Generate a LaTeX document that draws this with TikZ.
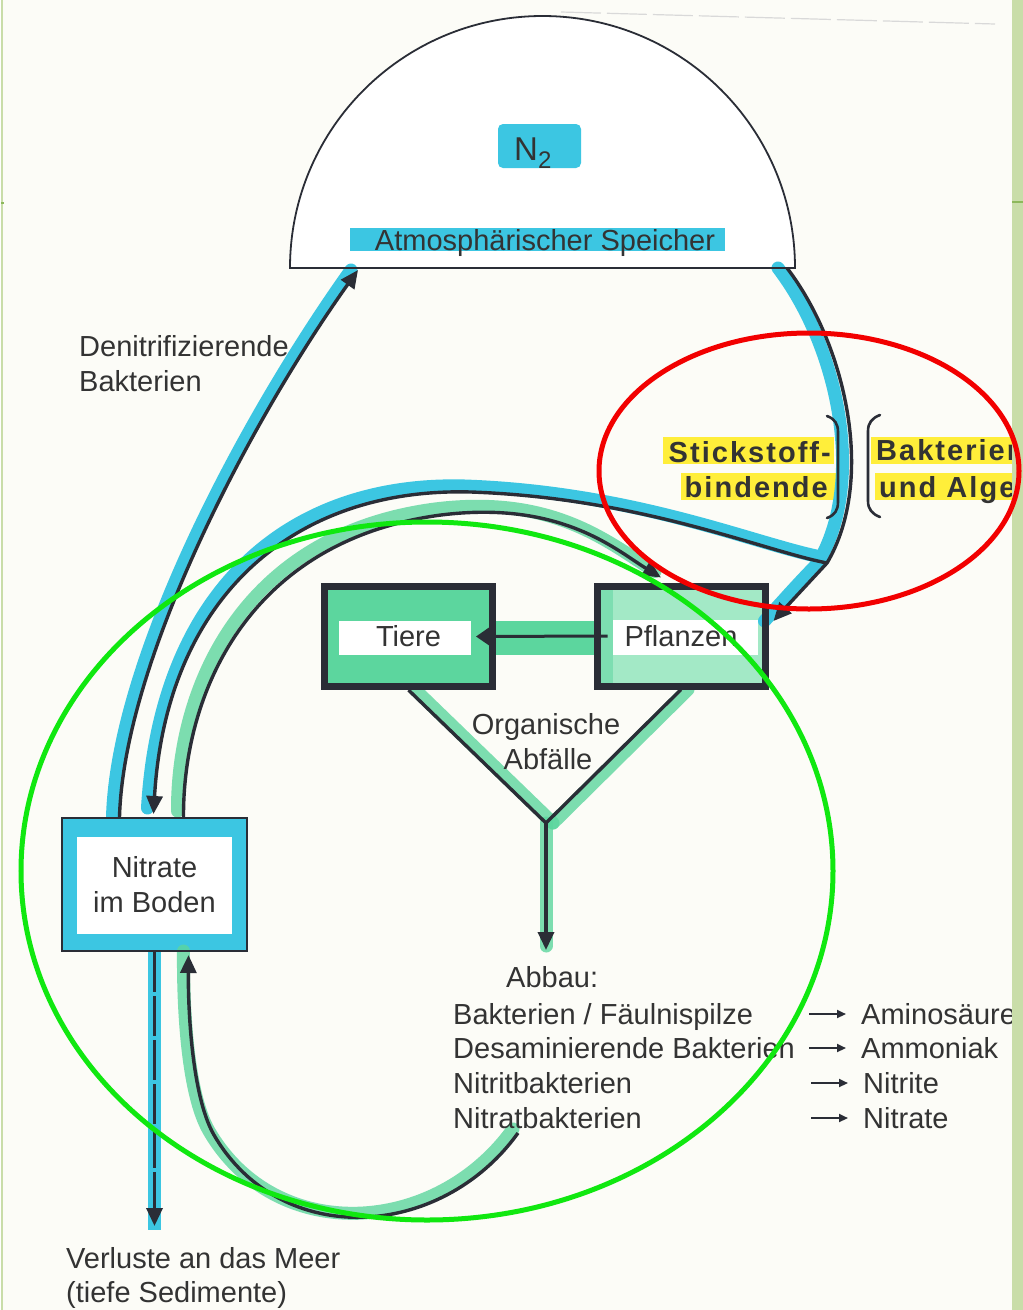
\documentclass[tikz,border=0pt]{standalone}
\usepackage{fontspec}
\setmainfont{Liberation Sans}
\newfontfamily\markfont[LetterSpace=7]{Liberation Sans}
\usetikzlibrary{arrows.meta,calc}

\definecolor{paper}{HTML}{FCFCF7}
\definecolor{ink}{HTML}{2A2D36}
\definecolor{txt}{HTML}{333333}
\definecolor{cyanhl}{HTML}{3CC6E2}
\definecolor{minthl}{HTML}{5CD69E}
\definecolor{mintpale}{HTML}{A3E9C6}
\definecolor{yellowhl}{HTML}{FFEE3A}
\definecolor{frame}{HTML}{C9DDA9}
\definecolor{frameline}{HTML}{8DB85B}
\definecolor{ringred}{HTML}{F20000}
\definecolor{ringgreen}{HTML}{10E810}

\pgfdeclarelayer{base}
\pgfdeclarelayer{marker}
\pgfdeclarelayer{ring}
\pgfsetlayers{base,marker,main,ring}

\newcommand\lblfont{\fontsize{29}{35}\selectfont}

\begin{document}
\begin{tikzpicture}[x=1pt,y=-1pt,
  lbl/.style={font=\lblfont, text=txt, inner sep=0pt},
  boldlbl/.style={font=\markfont\bfseries\lblfont, text=txt, inner sep=0pt},
  ink/.style={draw=ink, line width=3.4pt},
  tipped/.style={-{Triangle[length=18pt,width=16pt]}},
  cyanband/.style={draw=cyanhl, line width=13pt, line cap=round},
  mintband/.style={draw=minthl, line width=13pt, line cap=round, opacity=.8},
  organ/.style={draw=ink, line width=7pt, minimum width=168pt, minimum height=100pt,
                inner sep=0pt, font=\lblfont, text=txt},
  bracket/.style={draw=ink, line width=2.6pt, line cap=round},
]

% paper, frame strip and the white dome interior
\begin{pgfonlayer}{base}
  \fill[paper] (0,0) rectangle (1022,1310);
  \fill[white] (289,268) arc[start angle=180, end angle=360, x radius=252.5, y radius=252] -- cycle;
  \fill[frame] (0,0) rectangle (2.5,1310);
  \draw[frameline, line width=2pt] (0,203) -- (3,203);
  \draw[black!15, line width=1.2pt, dash pattern=on 40pt off 6pt] (560,12) -- (994,24);
\end{pgfonlayer}
\useasboundingbox (0,0) rectangle (1022,1310);

% ---------- atmosphere ----------
\draw[ink, line width=1.8pt] (289,268) arc[start angle=180, end angle=360, x radius=252.5, y radius=252] -- cycle;
\coordinate (atmL) at (357,270);
\coordinate (atmR) at (786,268);
\begin{pgfonlayer}{marker}
  \fill[cyanhl, rounded corners=5pt] (497,124) rectangle (580,168);
  \fill[cyanhl] (349,228) rectangle (724,251);
\end{pgfonlayer}
\node[lbl, anchor=base west, font=\fontsize{33}{33}\selectfont] (n2) at (513,160)
  {N\raisebox{-8pt}{\fontsize{24}{24}\selectfont 2}};
\node[lbl, anchor=base] (atmtext) at (544,250) {Atmosphärischer Speicher};

% ---------- boxes ----------
\node[draw=ink, line width=2pt, minimum width=185pt, minimum height=133pt, inner sep=0pt,
      align=center, font=\lblfont, text=txt] (boden) at (153.5,884.5) {Nitrate\\im Boden};
\node[organ] (tiere) at (407.5,636.5) {Tiere};
\node[organ] (pfl) at (680,636) {Pflanzen};

\begin{pgfonlayer}{marker}
  \fill[cyanhl] (61,818) rectangle (246,951);
  \fill[white] (76,837) rectangle (231,934);
  \fill[minthl] (323,586) rectangle (492,687);
  \fill[white] (338,621) rectangle (470,655);
  \fill[mintpale] (595,586) rectangle (765,685);
  \fill[minthl!80] (595,586) rectangle (612,685);
  \fill[white] (612,620) rectangle (757,655);
  \fill[minthl] (491,621) rectangle (596,655);
\end{pgfonlayer}

% ---------- labels ----------
\node[lbl, anchor=base west] (dn1) at (78,356) {Denitrifizierende};
\node[lbl, anchor=base west] (dn2) at (78,391) {Bakterien};
\node[lbl, anchor=base] (org1) at (545,734) {Organische};
\node[lbl, anchor=base] (org2) at (547,769) {Abfälle};
\node[lbl, anchor=base west] (abbau) at (505,987) {Abbau:};
\node[lbl, anchor=base west] (l1) at (452,1024) {Bakterien / Fäulnispilze};
\node[lbl, anchor=base west] (l2) at (452,1058) {Desaminierende Bakterien};
\node[lbl, anchor=base west] (l3) at (452,1093) {Nitritbakterien};
\node[lbl, anchor=base west] (l4) at (452,1128) {Nitratbakterien};
\node[lbl, anchor=base west] (r1) at (860,1024) {Aminosäuren};
\node[lbl, anchor=base west] (r2) at (860,1058) {Ammoniak};
\node[lbl, anchor=base west] (r3) at (862,1093) {Nitrite};
\node[lbl, anchor=base west] (r4) at (862,1128) {Nitrate};
\node[lbl, anchor=base west] (verl1) at (65,1268) {Verluste an das Meer};
\node[lbl, anchor=base west] (verl2) at (65,1302) {(tiefe Sedimente)};

\foreach \r in {r1,r2,r3,r4}
  \draw[draw=ink, line width=2pt, -{Triangle[length=9pt,width=8pt]}]
    ($(\r.base west)+(-52,-10)$) -- ($(\r.base west)+(-15,-10)$);

% nitrogen fixers
\begin{pgfonlayer}{marker}
  \fill[yellowhl] (662,437) rectangle (833,464);
  \fill[yellowhl] (680,473) rectangle (842,500);
  \fill[yellowhl] (870,437) rectangle (1012,464);
  \fill[yellowhl] (874,473) rectangle (1012,500);
\end{pgfonlayer}
\node[boldlbl, anchor=base east] (sf1) at (830,462) {Stickstoff-};
\node[boldlbl, anchor=base east] (sf2) at (827,497) {bindende};
\node[boldlbl, anchor=base west] (ba1) at (875,460) {Bakterien};
\node[boldlbl, anchor=base west] (ba2) at (878,497) {und Algen};
\draw[bracket] (826,416) .. controls (834,419) and (837,424) .. (837,432)
  -- (837,502) .. controls (837,510) and (834,515) .. (826,518);
\draw[bracket] (879,415) .. controls (871,418) and (867,423) .. (867,431)
  -- (867,501) .. controls (867,509) and (871,514) .. (879,517);

% ---------- connector end points ----------
\coordinate (bodenT1) at ($(boden.north)+(-35,0)$);
\coordinate (bodenT2) at ($(boden.north)+(-1,-3)$);
\coordinate (bodenT3) at ($(boden.north)+(29,0)$);
\coordinate (bodenB1) at ($(boden.south)+(0,0)$);
\coordinate (bodenB2) at ($(boden.south)+(34,3)$);
\coordinate (pflN) at ($(pfl.north)+(-20,-5)$);
\coordinate (pflE) at ($(pfl.east)+(5,-15)$);
\coordinate (fork) at (826,563);
\coordinate (ymerge) at (545,823);
\coordinate (abbauIn) at (545,950);
\coordinate (nitS) at (517,1133);
\coordinate (sink) at (153.5,1226);

\def\denitpath{(bodenT1) .. controls (123,660) and (250,420) .. (atmL)}
\def\fixpath{(atmR) .. controls (845,345) and (875,480) .. (fork) .. controls (805,585) .. (pflE)}
\def\fixsoilpath{(fork) .. controls (760,550) and (640,498) .. (470,492) .. controls (290,487) and (165,600) .. (bodenT2)}
\def\uptakepath{(bodenT3) .. controls (182,690) and (250,540) .. (440,515) .. controls (560,500) and (615,550) .. (pflN)}
\def\nitrifpath{(nitS) .. controls (440,1240) and (280,1250) .. (213,1135) .. controls (191,1097) and (187,1010) .. (bodenB2)}

% ---------- highlighter bands ----------
\begin{pgfonlayer}{marker}
  \draw[cyanband, transform canvas={xshift=-7pt}] \denitpath;
  \draw[cyanband, transform canvas={xshift=-9pt}] \fixpath;
  \draw[cyanband, transform canvas={xshift=-6pt, yshift=6pt}] \fixsoilpath;
  \draw[mintband, transform canvas={xshift=-6pt, yshift=6pt}] \uptakepath;
  \draw[mintband, transform canvas={xshift=-5pt, yshift=4pt}] \nitrifpath;
  \draw[cyanband, line cap=butt] (bodenB1) -- ($(sink)+(0,4)$);
  \draw[mintband] ($(tiere.south)+(7,0)$) -- ($(ymerge)+(7,0)$);
  \draw[mintband] ($(pfl.south)+(7,0)$) -- ($(ymerge)+(7,0)$);
  \draw[mintband] (ymerge) -- ($(abbauIn)+(0,-4)$);
\end{pgfonlayer}

% ---------- connectors ----------
\draw[ink, tipped] \denitpath;
\draw[ink, tipped] \fixpath;
\draw[ink, tipped] \fixsoilpath;
\draw[ink, tipped] \uptakepath;
\draw[ink, tipped] \nitrifpath;
\draw[ink, tipped, dash pattern=on 40pt off 4pt] (bodenB1) -- (sink);
\draw[ink, line width=3pt, -{Triangle[length=18pt,width=24pt]}] ($(pfl.west)+(14,0)$) -- ($(tiere.east)+(-20,0)$);
\draw[ink, line join=miter] (tiere.south) -- (ymerge) -- (pfl.south);
\draw[ink, tipped] (ymerge) -- (abbauIn);

% ---------- rings and frame ----------
\begin{pgfonlayer}{ring}
  \fill[frame] (1011,0) rectangle (1022,1310);
  \draw[frameline, line width=2pt] (1011,202) -- (1022,202);
  \draw[ringred, line width=5pt] (808,471) ellipse [x radius=210, y radius=138];
  \draw[ringgreen, line width=5pt] (426,871) ellipse [x radius=406, y radius=349];
\end{pgfonlayer}
\end{tikzpicture}
\end{document}
